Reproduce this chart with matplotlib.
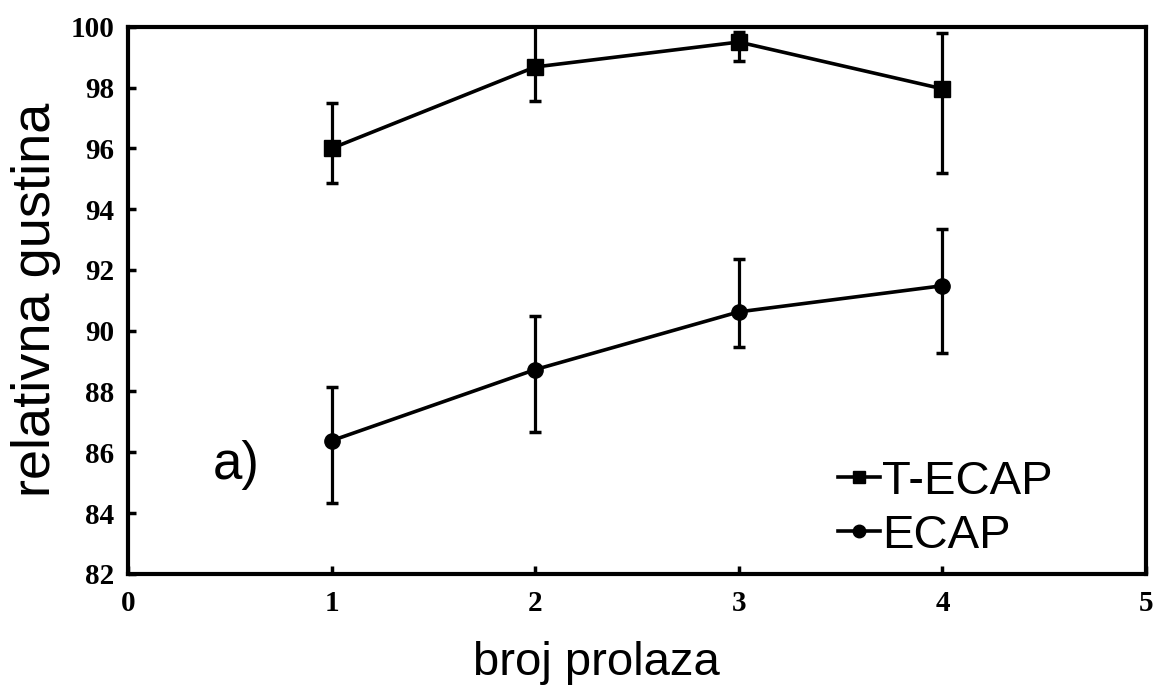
import matplotlib
matplotlib.use("Agg")
import matplotlib.pyplot as plt
from matplotlib.lines import Line2D

# data
passes = [1, 2, 3, 4]

tecap = [96.0, 98.68, 99.5, 97.96]
tecap_lo = [1.13, 1.11, 0.62, 2.76]
tecap_hi = [1.50, 1.40, 0.34, 1.84]

ecap = [86.38, 88.72, 90.62, 91.48]
ecap_lo = [2.04, 2.04, 1.15, 2.20]
ecap_hi = [1.78, 1.77, 1.75, 1.88]

x_ticks = [0, 1, 2, 3, 4, 5]
y_ticks = [82, 84, 86, 88, 90, 92, 94, 96, 98, 100]

fig = plt.figure(figsize=(11.53, 6.88), dpi=100)
ax = fig.add_axes([0.111, 0.166, 0.883, 0.795])

ax.errorbar(passes, tecap, yerr=[tecap_lo, tecap_hi], color='black',
            marker='s', markersize=11, linewidth=2.6, elinewidth=2.3,
            capsize=4, capthick=2.5)
ax.errorbar(passes, ecap, yerr=[ecap_lo, ecap_hi], color='black',
            marker='o', markersize=11, linewidth=2.6, elinewidth=2.3,
            capsize=4, capthick=2.5)

ax.set_xlim(0, 5)
ax.set_ylim(82, 100)
ax.set_xticks(x_ticks)
ax.set_yticks(y_ticks)

for s in ax.spines.values():
    s.set_linewidth(3)

ax.tick_params(direction='in', length=6, width=2.5, top=False, right=False)
ax.tick_params(axis='y', pad=10)
ax.tick_params(axis='x', pad=12)
for lbl in ax.get_xticklabels() + ax.get_yticklabels():
    lbl.set_fontfamily('Liberation Serif')
    lbl.set_fontweight('bold')
    lbl.set_fontsize(21)

ax.set_xlabel('broj prolaza', fontsize=34, family='Liberation Sans')
ax.xaxis.set_label_coords(0.46, -0.122)
ax.set_ylabel('relativna gustina', fontsize=39, family='Liberation Sans')
ax.yaxis.set_label_coords(-0.066, 0.5)

ax.text(0.083, 0.198, 'a)', transform=ax.transAxes, fontsize=38,
        family='Liberation Sans', ha='left', va='center')

handles = [Line2D([], [], color='black', marker='s', markersize=9, linewidth=2.6),
           Line2D([], [], color='black', marker='o', markersize=9, linewidth=2.6)]
ax.legend(handles, ['T-ECAP', 'ECAP'], loc='upper left',
          bbox_to_anchor=(0.697, 0.208), frameon=False,
          prop={'family': 'Liberation Sans', 'size': 34},
          borderpad=0, borderaxespad=0, labelspacing=0.21,
          handlelength=0.9, handletextpad=0.05)

fig.savefig('out.png', dpi=100)
